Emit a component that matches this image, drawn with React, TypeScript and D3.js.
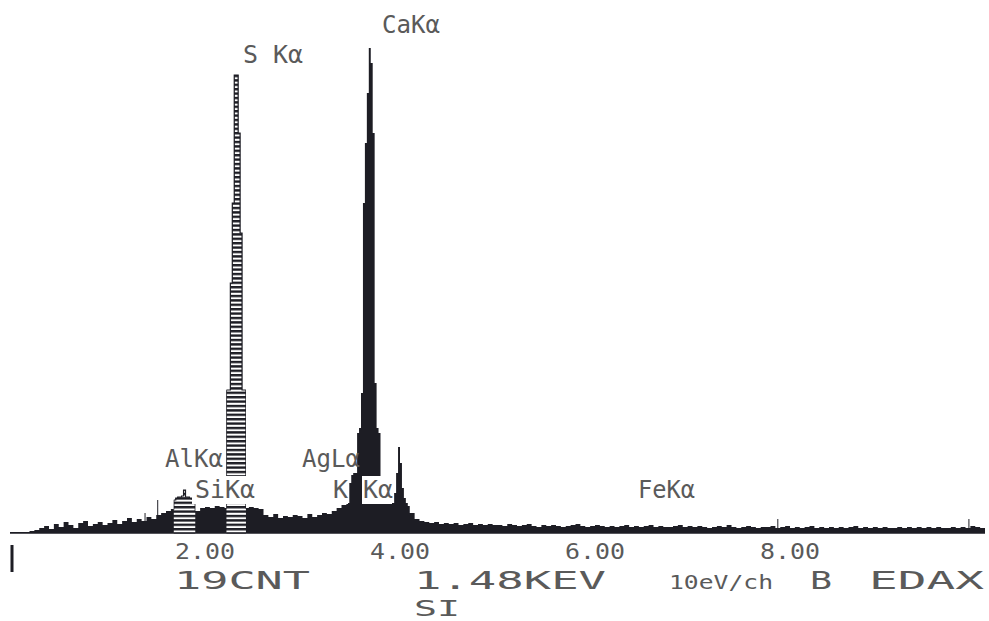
import React from "react";
import * as d3 from "d3";

// background counts, one value per 0.05 keV bin from 0 to 10 keV
const BIN_KEV = 0.05;
const background = [
  1, 1, 1, 1, 2, 3,
  5, 7, 4, 9, 6, 11, 8, 5, 10, 12, 7, 9, 11, 8,
  10, 13, 9, 12, 15, 11, 14, 12, 16, 14,
  18, 20, 22,
  24, 26, 27, 25, 24, 22,
  25, 26, 25, 27, 26, 25, 26, 25, 26, 25, 26, 25, 24,
  18, 16, 19, 15, 17, 16, 18, 17, 15, 19, 16, 18, 20, 19,
  22, 25,
  28, 30, 33, 33, 32, 30, 30, 29, 30, 31, 30, 31, 29, 27,
  20, 14, 12,
  11, 10, 11, 9, 10, 9, 10, 8, 9, 10, 8, 9, 8, 9, 8,
  8, 7, 9, 8, 7, 8, 9, 7, 6, 8, 7, 8, 7, 6, 7, 8, 9, 7, 6, 7,
  8, 7, 6, 7, 6, 7, 8, 6, 7, 6, 7, 8, 6, 7, 6, 6, 7, 8, 6, 7,
  6, 7, 6, 5, 6, 7, 6, 8, 6, 5, 6, 7, 6, 5, 6, 6, 7, 5, 6, 7,
  5, 6, 5, 6, 7, 5, 6, 5, 6, 5, 6, 5, 6, 7, 5, 6, 5, 6, 5, 6,
  5, 5, 6, 5, 6, 5, 6, 5, 6, 5, 6, 5, 5, 6, 5, 6, 5, 7, 6, 5,
];

// peak profiles, 0.02 keV steps
const PEAK_STEP = 0.02;
const alStart = 1.68;
const alCounts = [33, 35, 36, 36, 37, 43, 36, 36, 35, 34, 33];
const sStart = 2.22;
const sCounts = [143, 143, 250, 330, 458, 458, 400, 300, 143, 143];
const kStart = 3.48;
const kCounts = [50, 58, 60, 60];
const caStart = 3.56;
const caCounts = [100, 105, 140, 330, 390, 440, 485, 470, 400, 150, 105, 100, 50];
const cabStart = 3.92;
const cabCounts = [30, 40, 60, 86, 70, 45, 35, 30, 25];

// single-channel spikes
const spikeKev = [1.38, 1.51, 3.12, 7.87, 9.83];
const spikeCounts = [20, 33, 14, 14, 14];

// hatched regions of interest
const roiKev = [[1.68, 1.9], [2.22, 2.42]];

const ticks = [2, 4, 6, 8];
const tickLabels = ["2.00", "4.00", "6.00", "8.00"];

const peakLabels = [
  { t: "CaKα", x: 382, y: 33, w: 58 },
  { t: "S Kα", x: 243, y: 63, w: 60 },
  { t: "AlKα", x: 165, y: 467, w: 58 },
  { t: "AgLα", x: 302, y: 467, w: 58 },
  { t: "SiKα", x: 195, y: 498, w: 60 },
  { t: "K Kα", x: 333, y: 498, w: 60 },
  { t: "FeKα", x: 638, y: 498, w: 57 },
];

function peakAt(e: number, start: number, counts: number[]) {
  const i = Math.floor((e - start) / PEAK_STEP + 1e-6);
  return i >= 0 && i < counts.length ? counts[i] : 0;
}

export default function App() {
  const W = 989, H = 621;
  const x = d3.scaleLinear().domain([0, 10]).range([10, 985]);
  const y = d3.scaleLinear().domain([0, 500]).range([533, 33]);

  const channels: { e: number; c: number }[] = [];
  for (let ch = 0; ch <= 1000; ch++) {
    const e = ch / 100;
    const bi = Math.min(background.length - 1, Math.floor(e / BIN_KEV + 1e-6));
    let c = background[bi];
    c = Math.max(c, peakAt(e, alStart, alCounts));
    c = Math.max(c, peakAt(e, sStart, sCounts));
    c = Math.max(c, peakAt(e, kStart, kCounts));
    c = Math.max(c, peakAt(e, caStart, caCounts));
    c = Math.max(c, peakAt(e, cabStart, cabCounts));
    spikeKev.forEach((s, i) => {
      if (Math.abs(s - e) < 0.005) c = Math.max(c, spikeCounts[i]);
    });
    channels.push({ e, c });
  }

  const area = d3.area<{ e: number; c: number }>()
    .x(d => x(d.e))
    .y0(y(0))
    .y1(d => y(d.c))
    .curve(d3.curveStepAfter);
  const path = area(channels) || "";

  const ink = "#1d1d24";
  const textInk = "#5a5a5a";
  const font = "'DejaVu Sans Mono', monospace";

  return (
    <svg width={W} height={H} style={{ position: "absolute", left: 0, top: 0, background: "#fff" }}>
      <defs>
        <pattern id="hatch" width="4" height="4.4" patternUnits="userSpaceOnUse">
          <rect width="4" height="4.4" fill="#fff" />
          <rect width="4" height="2.4" fill={ink} />
        </pattern>
        {roiKev.map((r, i) => (
          <clipPath key={i} id={`roi${i}`}>
            <rect x={x(r[0])} y={0} width={x(r[1]) - x(r[0])} height={H} />
          </clipPath>
        ))}
      </defs>

      <line x1={x(0)} x2={x(10)} y1={y(0)} y2={y(0)} stroke={ink} strokeWidth={1.5} />
      <path d={path} fill={ink} />
      {roiKev.map((r, i) => (
        <path key={i} d={path} fill="url(#hatch)" stroke={ink} strokeWidth={1.2} clipPath={`url(#roi${i})`} />
      ))}

      {/* label knock-outs */}
      <rect x={192} y={476} width={66} height={28} fill="#fff" />
      <rect x={331} y={476} width={17} height={28} fill="#fff" />
      <rect x={362} y={476} width={30} height={28} fill="#fff" />

      {peakLabels.map((l, i) => (
        <text key={i} x={l.x} y={l.y} fontFamily={font} fontSize={24} fill={textInk}
          textLength={l.w} lengthAdjust="spacingAndGlyphs">{l.t}</text>
      ))}

      <rect x={10.5} y={545} width={3} height={27} fill={ink} />

      {ticks.map((t, i) => (
        <text key={t} x={x(t)} y={559} textAnchor="middle" fontFamily={font} fontSize={22}
          fill={textInk} textLength={60} lengthAdjust="spacingAndGlyphs">{tickLabels[i]}</text>
      ))}

      <text x={174} y={589} fontFamily={font} fontSize={24} fill={textInk} textLength={136} lengthAdjust="spacingAndGlyphs">19CNT</text>
      <text x={414} y={589} fontFamily={font} fontSize={24} fill={textInk} textLength={192} lengthAdjust="spacingAndGlyphs">1.48KEV</text>
      <text x={669} y={589} fontFamily={font} fontSize={20} fill={textInk} textLength={104} lengthAdjust="spacingAndGlyphs">10eV/ch</text>
      <text x={810} y={589} fontFamily={font} fontSize={24} fill={textInk} textLength={22} lengthAdjust="spacingAndGlyphs">B</text>
      <text x={869} y={589} fontFamily={font} fontSize={24} fill={textInk} textLength={115} lengthAdjust="spacingAndGlyphs">EDAX</text>
      <text x={414} y={616} fontFamily={font} fontSize={21} fill={textInk} textLength={46} lengthAdjust="spacingAndGlyphs">SI</text>
    </svg>
  );
}
